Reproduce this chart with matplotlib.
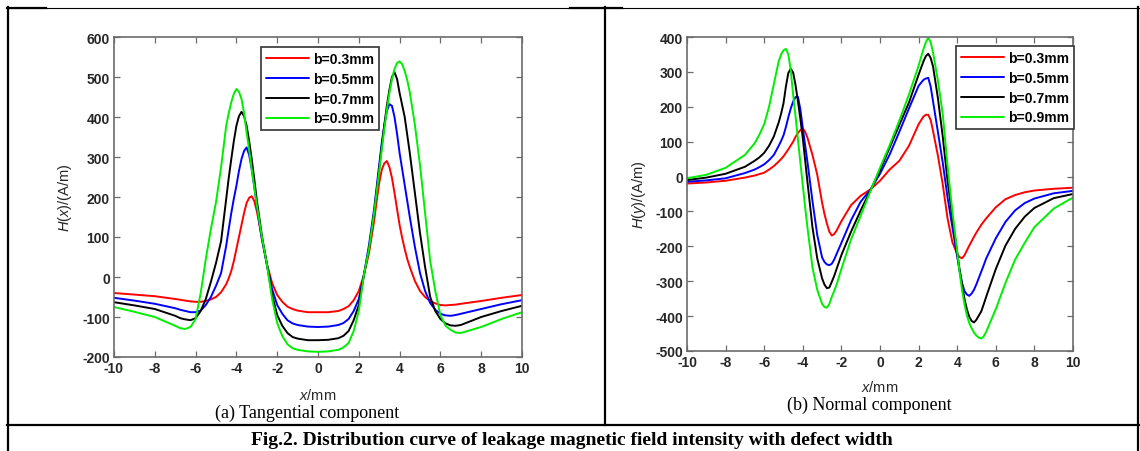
import matplotlib
matplotlib.use("Agg")
import matplotlib.pyplot as plt
from matplotlib.lines import Line2D

plt.rcParams['font.family'] = ['Liberation Sans', 'DejaVu Sans']
plt.rcParams['mathtext.fontset'] = 'custom'
plt.rcParams['mathtext.rm'] = 'Liberation Sans'
plt.rcParams['mathtext.it'] = 'Liberation Sans:italic'
plt.rcParams['axes.unicode_minus'] = False

# ---------------- data ----------------
labels = ['b=0.3mm', 'b=0.5mm', 'b=0.7mm', 'b=0.9mm']
colors = ['#ff0000', '#0000ff', '#000000', '#00ee00']

# (a) tangential component H(x)
x_tan = [-10, -9, -8, -7, -6.75, -6.5, -6.25, -6, -5.75, -5.5, -5.25, -5, -4.75, -4.5,
         -4.375, -4.25, -4.125, -4, -3.875, -3.75, -3.625, -3.5, -3.375, -3.25, -3.125,
         -3, -2.875, -2.75, -2.5, -2.25, -2, -1.75, -1.5, -1.25, -1, -0.5, 0, 0.5, 1,
         1.25, 1.5, 1.75, 2, 2.25, 2.5, 2.75, 2.875, 3, 3.125, 3.25, 3.375, 3.5, 3.625,
         3.75, 3.875, 4, 4.125, 4.25, 4.375, 4.5, 4.75, 5, 5.25, 5.5, 5.75, 6, 6.25,
         6.5, 6.75, 7, 8, 9, 10]
hx_03 = [-40, -44, -48, -55, -57, -59, -61, -62, -62, -60, -56, -50, -38, -18,
         -3, 15, 40, 70, 100, 130, 160, 185, 198, 202, 190,
         165, 132, 95, 32, -15, -45, -62, -74, -80, -84, -88, -88, -88, -85,
         -80, -73, -58, -35, 5, 60, 140, 190, 235, 268, 284, 290, 275, 248,
         210, 170, 130, 98, 70, 45, 25, -10, -35, -50, -60, -66, -70, -71,
         -70, -69, -67, -60, -52, -45]
hx_05 = [-52, -59, -67, -78, -82, -85, -88, -88, -84, -70, -50, -22, 10, 78,
         120, 160, 196, 228, 265, 295, 315, 324, 305, 270, 226,
         178, 135, 95, 30, -30, -70, -92, -108, -116, -120, -124, -125, -124, -120,
         -115, -105, -85, -55, 5, 80, 170, 225, 280, 335, 378, 415, 432, 428,
         400, 358, 310, 270, 230, 190, 150, 75, 10, -35, -65, -82, -92, -96,
         -97, -95, -92, -80, -68, -58]
hx_07 = [-63, -71, -80, -97, -103, -106, -108, -103, -85, -55, -12, 35, 90, 195,
         248, 295, 340, 378, 402, 413, 402, 378, 340, 295, 245,
         192, 148, 103, 30, -45, -95, -122, -140, -150, -154, -158, -158, -157, -153,
         -147, -135, -108, -70, 5, 70, 160, 215, 270, 327, 380, 428, 468, 500,
         512, 495, 460, 430, 400, 355, 310, 210, 110, 25, -50, -85, -105, -116,
         -121, -122, -120, -100, -85, -72]
hx_09 = [-75, -87, -100, -122, -128, -130, -125, -105, -40, 45, 120, 187, 275, 378,
         410, 437, 458, 470, 463, 445, 410, 362, 318, 270, 225,
         180, 140, 100, 30, -55, -115, -148, -168, -178, -182, -186, -187, -186, -182,
         -176, -165, -135, -85, 5, 70, 160, 212, 265, 318, 370, 418, 460, 495,
         520, 535, 539, 532, 515, 492, 462, 380, 280, 160, 40, -35, -95, -122,
         -132, -139, -140, -125, -105, -88]

# (b) normal component H(y)
x_nor = [-10, -9, -8, -7, -6.5, -6.25, -6, -5.75, -5.5, -5.25, -5.125, -5, -4.875, -4.75,
         -4.625, -4.5, -4.375, -4.25, -4.125, -4, -3.875, -3.75, -3.5, -3.25, -3, -2.875,
         -2.75, -2.625, -2.5, -2.375, -2.25, -2, -1.5, -1, -0.5, 0, 0.5, 1, 1.5, 2, 2.25,
         2.375, 2.5, 2.625, 2.75, 3, 3.25, 3.5, 3.75, 4, 4.125, 4.25, 4.375, 4.5, 4.625,
         4.75, 4.875, 5, 5.125, 5.25, 5.375, 5.5, 6, 6.5, 7, 7.5, 8, 9, 10]
hy_03 = [-20, -17, -12, -3, 3, 7, 11, 20, 30, 43, 50, 58, 68, 78,
         89, 100, 114, 125, 133, 138, 128, 110, 62, 5, -75, -108,
         -135, -158, -169, -165, -155, -128, -82, -55, -37, -12, 20, 45, 88, 150, 172,
         177, 177, 162, 130, 60, -22, -120, -188, -222, -231, -234, -226, -212, -198,
         -185, -172, -160, -149, -138, -129, -120, -88, -65, -53, -45, -40, -35, -32]
hy_05 = [-15, -11, -5, 10, 20, 27, 35, 47, 62, 88, 102, 118, 142, 170,
         195, 215, 228, 228, 192, 139, 88, 38, -70, -168, -232, -245,
         -252, -254, -250, -238, -222, -190, -125, -72, -38, 8, 63, 128, 195, 260, 277,
         281, 283, 258, 215, 128, 40, -60, -145, -230, -270, -305, -328, -338, -342,
         -335, -324, -308, -290, -272, -254, -235, -177, -130, -97, -76, -63, -48, -41]
hy_07 = [-10, -3, 8, 28, 45, 55, 68, 88, 115, 155, 180, 210, 258, 297,
         309, 298, 262, 215, 165, 110, 45, -20, -145, -235, -292, -310,
         -320, -318, -302, -285, -265, -225, -158, -97, -40, 18, 83, 148, 212, 292, 330,
         345, 352, 340, 315, 225, 115, -12, -117, -217, -268, -310, -350, -380, -402,
         -414, -418, -410, -398, -386, -366, -345, -265, -198, -150, -115, -90, -62, -50]
hy_09 = [-5, 5, 25, 62, 95, 120, 150, 200, 265, 330, 350, 362, 366, 350,
         305, 234, 172, 105, 40, -25, -90, -150, -260, -325, -365, -374,
         -376, -365, -345, -328, -310, -265, -180, -112, -42, 25, 90, 160, 235, 318, 365,
         385, 398, 385, 355, 275, 180, 30, -100, -215, -275, -325, -365, -398, -420,
         -435, -448, -456, -462, -464, -458, -445, -380, -305, -238, -190, -145, -92, -60]

for s in (hx_03, hx_05, hx_07, hx_09):
    assert len(s) == len(x_tan)
for s in (hy_03, hy_05, hy_07, hy_09):
    assert len(s) == len(x_nor)

W, H = 1140, 452
fig = plt.figure(figsize=(W / 100, H / 100), dpi=100)
fig.patch.set_facecolor('white')


def fx(x):
    return x / W


def fy(y):
    return 1 - y / H


def rect(l, t, r, b):
    return [fx(l), fy(b), fx(r) - fx(l), fy(t) - fy(b)]


spine_c = '#6b6b6b'
tick_c = '#262626'


def style(ax, ylim, yticks):
    ax.set_xlim(-10, 10)
    ax.set_ylim(*ylim)
    ax.set_xticks(range(-10, 11, 2))
    ax.set_yticks(yticks)
    ax.tick_params(direction='in', length=4, width=0.9, color=spine_c,
                   top=True, right=True, labelsize=10, labelcolor=tick_c, pad=3)
    for lab in ax.get_xticklabels() + ax.get_yticklabels():
        lab.set_fontweight('bold')
    for s in ax.spines.values():
        s.set_color(spine_c)
        s.set_linewidth(1.2)


def legend(ax, anchor):
    leg = ax.legend(loc='upper left', bbox_to_anchor=anchor, frameon=True, fancybox=False,
                    edgecolor='#333333', framealpha=1, handlelength=3.1, handletextpad=0.3,
                    borderpad=0.35, labelspacing=0.42, borderaxespad=0,
                    prop={'weight': 'bold', 'size': 10})
    leg.get_frame().set_linewidth(1.2)


def draw(ax, xs, series):
    for yv, c, lab in zip(series, colors, labels):
        ax.plot(xs, yv, color=c, lw=1.4, label=lab,
                solid_joinstyle='round', solid_capstyle='round')


# ---- (a) ----
ax1 = fig.add_axes(rect(114, 38, 522, 358))
draw(ax1, x_tan, [hx_03, hx_05, hx_07, hx_09])
style(ax1, (-200, 600), range(-200, 601, 100))
legend(ax1, ((261 - 114) / 408, 1 - (48 - 38) / 320))
ax1.set_ylabel(r'$\mathit{H}$($\mathit{x}$)/(A/m)', fontsize=10.5, color=tick_c)
ax1.yaxis.set_label_coords(-0.097, 0.5)
ax1.set_xlabel(r'$\mathit{x}$/mm', fontsize=10.5, color=tick_c)
ax1.xaxis.set_label_coords(0.5, -0.095)

# ---- (b) ----
ax2 = fig.add_axes(rect(687, 38, 1073, 352))
draw(ax2, x_nor, [hy_03, hy_05, hy_07, hy_09])
style(ax2, (-500, 400), range(-500, 401, 100))
legend(ax2, ((956 - 687) / 386, 1 - (47 - 38) / 314))
ax2.set_ylabel(r'$\mathit{H}$($\mathit{y}$)/(A/m)', fontsize=10.5, color=tick_c)
ax2.yaxis.set_label_coords(-0.1, 0.5)
ax2.set_xlabel(r'$\mathit{x}$/mm', fontsize=10.5, color=tick_c)
ax2.xaxis.set_label_coords(0.5, -0.09)


# ---- table frame ----
def hline(x0, x1, y, lw):
    fig.add_artist(Line2D([fx(x0), fx(x1)], [fy(y), fy(y)], color='black', lw=lw,
                          transform=fig.transFigure))


def vline(x, y0, y1, lw):
    fig.add_artist(Line2D([fx(x), fx(x)], [fy(y0), fy(y1)], color='black', lw=lw,
                          transform=fig.transFigure))


hline(7, 1140, 8.5, 0.8)
hline(7, 46, 8.5, 1.6)
hline(570, 622, 8.5, 1.6)
vline(7.5, 8, 452, 1.6)
vline(605, 8, 426, 1.6)
vline(1137.5, 8, 452, 1.6)
hline(7, 1140, 426, 1.6)

serif = ['Liberation Serif', 'DejaVu Serif']
fig.text(fx(307), fy(413), '(a) Tangential component', ha='center', va='center',
         fontsize=13, family=serif)
fig.text(fx(869), fy(405), '(b) Normal component', ha='center', va='center',
         fontsize=13, family=serif)
fig.text(fx(572), fy(441), 'Fig.2. Distribution curve of leakage magnetic field intensity with defect width',
         ha='center', va='center', fontsize=14, fontweight='bold', family=serif)

fig.savefig('out.png', dpi=100, facecolor='white')
